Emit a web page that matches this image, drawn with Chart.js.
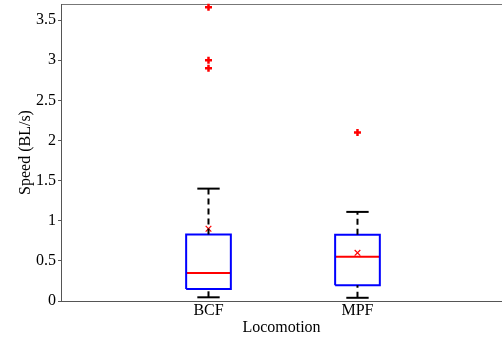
<!DOCTYPE html>
<html>
<head>
<meta charset="utf-8">
<script src="https://cdn.jsdelivr.net/npm/chart.js@4"></script>
<style>
  html, body { margin: 0; padding: 0; background: #fff; overflow: hidden; }
  #wrap { width: 502px; height: 341px; }
</style>
</head>
<body>
<div id="wrap"><canvas id="myChart"></canvas></div>
<script>
// Данные
const categories = ['BCF', 'MPF'];
const lowerWhisker = [0.046, 0.04];
const q1 = [0.15, 0.196];
const median = [0.35, 0.55];
const q3 = [0.83, 0.825];
const upperWhisker = [1.40, 1.11];
const means = [0.90, 0.60];
const outliers = [[2.9, 3.0, 3.66], [2.1]];
const yTicks = [0, 0.5, 1, 1.5, 2, 2.5, 3, 3.5];

const BOX_HALF = 0.15;
const CAP_HALF = 0.075;
const FONT = 'Liberation Serif, Times New Roman, serif';

function lineSet(points, color, dash) {
  return {
    data: points,
    showLine: true,
    borderColor: color,
    borderWidth: 2,
    borderDash: dash || [],
    pointRadius: 0,
    fill: false
  };
}

const datasets = [];
categories.forEach((name, i) => {
  const x = i + 1;
  // усы (пунктир)
  datasets.push(lineSet([{ x: x, y: q3[i] }, { x: x, y: upperWhisker[i] }], '#000', [6, 4]));
  datasets.push(lineSet([{ x: x, y: lowerWhisker[i] }, { x: x, y: q1[i] }], '#000', [6, 4]));
  // концы усов
  datasets.push(lineSet([{ x: x - CAP_HALF, y: upperWhisker[i] }, { x: x + CAP_HALF, y: upperWhisker[i] }], '#000'));
  datasets.push(lineSet([{ x: x - CAP_HALF, y: lowerWhisker[i] }, { x: x + CAP_HALF, y: lowerWhisker[i] }], '#000'));
  // ящик
  datasets.push(lineSet([
    { x: x - BOX_HALF, y: q1[i] }, { x: x + BOX_HALF, y: q1[i] },
    { x: x + BOX_HALF, y: q3[i] }, { x: x - BOX_HALF, y: q3[i] },
    { x: x - BOX_HALF, y: q1[i] }
  ], '#0000ff'));
  // медиана
  datasets.push(lineSet([{ x: x - BOX_HALF, y: median[i] }, { x: x + BOX_HALF, y: median[i] }], '#ff0000'));
  // среднее
  datasets.push({
    data: [{ x: x, y: means[i] }],
    pointStyle: 'crossRot',
    pointRadius: 4,
    borderColor: '#ff0000',
    borderWidth: 1.2
  });
  // выбросы
  datasets.push({
    data: outliers[i].map(v => ({ x: x, y: v })),
    pointStyle: 'cross',
    pointRadius: 3.5,
    borderColor: '#ff0000',
    borderWidth: 2.5
  });
});

const canvas = document.getElementById('myChart');
const context = canvas.getContext('2d');

function noPad(scale) {
  scale.paddingTop = 0;
  scale.paddingBottom = 0;
  scale.paddingLeft = 0;
  scale.paddingRight = 0;
}

new Chart(context, {
  type: 'scatter',
  data: { datasets: datasets },
  options: {
    responsive: true,
    maintainAspectRatio: false,
    animation: false,
    clip: false,
    layout: { autoPadding: false, padding: { top: 4, right: 0, left: 0, bottom: 0 } },
    plugins: {
      legend: { display: false },
      tooltip: { enabled: false }
    },
    scales: {
      x: {
        type: 'linear',
        position: 'bottom',
        min: 0.01,
        max: 2.97,
        afterBuildTicks: scale => { scale.ticks = categories.map((c, i) => ({ value: i + 1 })); },
        afterFit: scale => { scale.height = 40; noPad(scale); },
        ticks: {
          callback: v => categories[v - 1],
          color: '#000',
          font: { family: FONT, size: 16 },
          padding: 0,
          maxRotation: 0
        },
        grid: { display: false, drawTicks: false, tickLength: 0 },
        border: { color: '#555', width: 1 },
        title: {
          display: true,
          text: 'Locomotion',
          color: '#000',
          font: { family: FONT, size: 16 },
          padding: { top: 0, bottom: 4 }
        }
      },
      xTop: {
        type: 'linear',
        position: 'top',
        min: 0,
        max: 1,
        afterFit: scale => { scale.height = 0; noPad(scale); },
        ticks: { display: false },
        grid: { display: false, drawTicks: false },
        border: { color: '#777', width: 1 }
      },
      y: {
        min: 0,
        max: 3.7,
        afterBuildTicks: scale => { scale.ticks = yTicks.map(v => ({ value: v })); },
        afterFit: scale => { scale.width = 61; noPad(scale); },
        ticks: {
          callback: v => String(v),
          color: '#000',
          font: { family: FONT, size: 16 },
          padding: 2
        },
        grid: { drawOnChartArea: false, tickLength: 3, color: '#555' },
        border: { color: '#555', width: 1 },
        title: {
          display: true,
          text: 'Speed (BL/s)',
          color: '#000',
          font: { family: FONT, size: 16 },
          padding: { top: 16, bottom: 0 }
        }
      }
    }
  }
});
</script>
</body>
</html>
